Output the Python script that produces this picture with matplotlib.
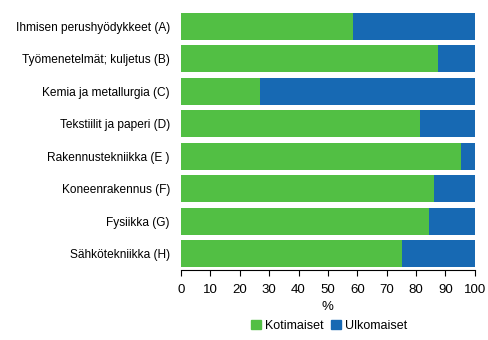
import matplotlib.pyplot as plt
from matplotlib.patches import Patch

plt.rcParams['font.family'] = ['Liberation Sans', 'DejaVu Sans']

categories = ["Ihmisen perushyödykkeet (A)", "Työmenetelmät; kuljetus (B)",
              "Kemia ja metallurgia (C)", "Tekstiilit ja paperi (D)",
              "Rakennustekniikka (E )", "Koneenrakennus (F)",
              "Fysiikka (G)", "Sähkötekniikka (H)"]
kotimaiset = [58.5, 87.4, 26.9, 81.3, 95.2, 86.1, 84.4, 75.2]
ulkomaiset = [100 - v for v in kotimaiset]
xticks = [0, 10, 20, 30, 40, 50, 60, 70, 80, 90, 100]

green = "#52bf44"
blue = "#1769b3"

fig = plt.figure(figsize=(4.88, 3.40), dpi=100)
ax = fig.add_axes([0.371, 0.206, 0.602, 0.764])

y = list(range(len(categories)))
ax.barh(y, kotimaiset, height=0.83, color=green)
ax.barh(y, ulkomaiset, left=kotimaiset, height=0.83, color=blue)

ax.set_ylim(len(categories) - 0.5, -0.5)
ax.set_xlim(0, 100)
ax.set_yticks(y)
ax.set_yticklabels(categories, fontsize=8.6)
ax.set_xticks(xticks)
ax.set_xticklabels([str(t) for t in xticks], fontsize=9.5)
ax.tick_params(axis="y", length=0, pad=8)
ax.tick_params(axis="x", length=4, direction="out", pad=6)
for s in ["top", "right", "left"]:
    ax.spines[s].set_visible(False)
ax.set_xlabel("%", fontsize=9.5, labelpad=4)

handles = [Patch(color=green, label="Kotimaiset"), Patch(color=blue, label="Ulkomaiset")]
fig.legend(handles=handles, loc="center", bbox_to_anchor=(0.675, 0.042), ncol=2,
           frameon=False, fontsize=9, handlelength=0.8, handleheight=0.8,
           handletextpad=0.3, columnspacing=0.6)

fig.savefig("out.png", dpi=100)
